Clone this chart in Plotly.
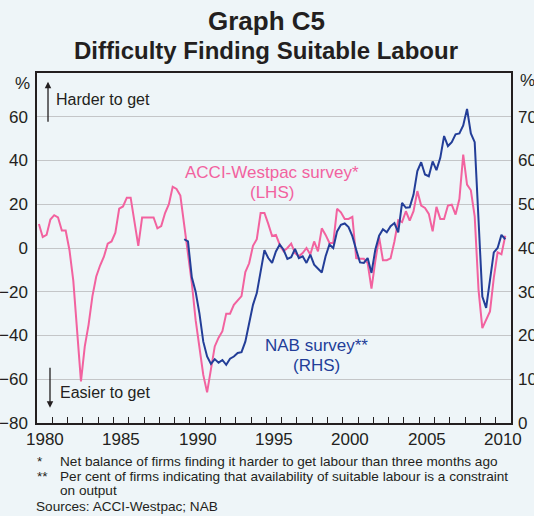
import pandas as pd
import plotly.graph_objects as go

# Quarterly survey readings, 1980 Q1 onwards
acci_westpac = [
    11, 5, 6, 13, 15, 14, 8, 8,                 # 1980-1981
    -1, -15, -38, -61, -45, -35, -22, -13,      # 1982-1983
    -8, -4, 2, 3, 7, 18, 19, 23,                # 1984-1985
    23, 12, 1, 14, 14, 14, 14, 9,               # 1986-1987
    10, 16, 20, 28, 27, 24, 10, -3,             # 1988-1989
    -16, -33, -46, -58, -66, -56, -45, -41,     # 1990-1991
    -38, -30, -30, -26, -24, -22, -11, -7,      # 1992-1993
    1, 4, 16, 16, 11, 5.5, 6, 1.5,              # 1994-1995
    -1.5, 0, 2, -2.3, -3.8, -2.3, 0, -3,        # 1996-1997
    3, -1.5, 9, 6, 2.3, 2.3, 17.9, 16.3,        # 1998-1999
    13.3, 13.3, 14.2, -4.6, -4.9, -4.9, -6.9, -18.6,  # 2000-2001
    -6, 5, -5.6, -5.6, -4.7, 3, 12.7, 11.8,     # 2002-2003
    16.8, 12.5, 16.8, 26, 19.4, 18.3, 15.6, 7.6,  # 2004-2005
    18.8, 13.3, 13.3, 19.4, 19.8, 15.3, 22.4, 42.7,  # 2006-2007
    29, 26.4, 14.5, -19, -36.6, -32.8, -29, -13.7,   # 2008-2009
    -2, -2.9, 5.6,                               # 2010
]

# NAB series starts in 1989 Q3
nab_start = "1989Q3"
nab = [
    42, 41.5,                                    # 1989
    33.3, 30, 25, 18.6, 15.2, 13.5, 14.6, 13.8,  # 1990-1991
    14.4, 13.3, 14.7, 15.2, 16, 16.2, 18.6, 22.8,  # 1992-1993
    27, 29.7, 35, 39.5, 37.7, 36.6, 39.2, 40.8,  # 1994-1995
    39.6, 37.5, 37.9, 39.8, 37.7, 38.1, 36.6, 38.5,  # 1996-1997
    36.2, 35.2, 34.4, 38.1, 40.8, 40, 43.8, 45.3,  # 1998-1999
    45.6, 44.8, 42.7, 39.6, 36.7, 36.6, 37.7, 34.3,  # 2000-2001
    39.6, 42.8, 44.3, 43.6, 45, 45.7, 43.6, 50.3,  # 2002-2003
    49.2, 49.3, 52.2, 57.6, 59.6, 56.8, 56.4, 59.8,  # 2004-2005
    57.8, 60.6, 65.6, 63.3, 64.2, 66, 66.2, 68,   # 2006-2007
    71.8, 66.2, 64.2, 46.5, 28.9, 26.3, 32.7, 39,  # 2008-2009
    40, 43, 42,                                  # 2010
]

year_labels = ["1980", "1985", "1990", "1995", "2000", "2005", "2010"]
year_ticks = list(range(1980, 2012))
lhs_ticks = [-80, -60, -40, -20, 0, 20, 40, 60]
rhs_ticks = [0, 10, 20, 30, 40, 50, 60, 70]

PINK = "#F2629F"
BLUE = "#233E98"
BG = "#EEF5F8"
TXT = "#231F20"
FONT = "Liberation Sans, Arial, sans-serif"


def mid_quarter(start, n):
    q = pd.period_range(start, periods=n, freq="Q")
    return list(q.year + (q.quarter - 1) / 4 + 0.125)


x_acci = mid_quarter("1980Q1", len(acci_westpac))
x_nab = mid_quarter(nab_start, len(nab))

W, H = 534, 516
L, R, T, B = 37, 511, 73, 423


def px_x(px):
    return (px - L) / (R - L)


def px_y(py):
    return (B - py) / (B - T)


def paper_text(text, px, py, size, xanchor="center", color=TXT):
    return dict(text=text, x=px_x(px), y=px_y(py), xref="paper", yref="paper",
                xanchor=xanchor, yanchor="middle", showarrow=False,
                font=dict(size=size, color=color, family=FONT))


def data_text(text, x, y, size, xanchor="center", color=TXT):
    return dict(text=text, x=x, y=y, xref="x", yref="y",
                xanchor=xanchor, yanchor="middle", showarrow=False,
                font=dict(size=size, color=color, family=FONT))


def arrow(x, y_tail, y_head):
    return dict(x=x, y=y_head, ax=x, ay=y_tail, xref="x", yref="y", axref="x", ayref="y",
                text="", showarrow=True, arrowhead=2, arrowsize=1, arrowwidth=1.3,
                arrowcolor=TXT)


fig = go.Figure()
fig.add_trace(go.Scatter(x=x_acci, y=acci_westpac, mode="lines",
                         line=dict(color=PINK, width=2), yaxis="y",
                         hoverinfo="skip"))
fig.add_trace(go.Scatter(x=x_nab, y=nab, mode="lines",
                         line=dict(color=BLUE, width=2), yaxis="y2",
                         hoverinfo="skip"))

ann = [
    # Titles
    paper_text("<b>Graph C5</b>", 266, 21, 26),
    paper_text("<b>Difficulty Finding Suitable Labour</b>", 266, 51, 24),
    # Unit labels
    paper_text("%", 22, 83, 17),
    paper_text("%", 518, 80, 17, xanchor="left"),
    # Direction arrows and captions
    arrow(1980.72, 57, 76),
    data_text("Harder to get", 1981.1, 68, 16, xanchor="left"),
    arrow(1980.85, -54, -73),
    data_text("Easier to get", 1981.37, -66, 16, xanchor="left"),
    # Series labels
    data_text("ACCI-Westpac survey*", 1995.37, 34.5, 17, color=PINK),
    data_text("(LHS)", 1995.37, 25.3, 17, color=PINK),
    data_text("NAB survey**", 1998.25, -44.7, 17, color=BLUE),
    data_text("(RHS)", 1998.25, -53.9, 17, color=BLUE),
]

# Year labels sit in the middle of each labelled year
for lab in year_labels:
    ann.append(dict(text=lab, x=int(lab) + 0.5, y=px_y(439), xref="x", yref="paper",
                    xanchor="center", yanchor="middle", showarrow=False,
                    font=dict(size=17, color=TXT, family=FONT)))

# Footnotes
notes = [
    (35, 461, "*"),
    (58, 461, "Net balance of firms finding it harder to get labour than three months ago"),
    (35, 476, "**"),
    (58, 476, "Per cent of firms indicating that availability of suitable labour is a constraint"),
    (58, 490, "on output"),
    (34, 506, "Sources: ACCI-Westpac; NAB"),
]
for nx, ny, t in notes:
    ann.append(paper_text(t, nx, ny, 13.6, xanchor="left"))

fig.update_layout(
    width=W, height=H,
    margin=dict(l=L, r=W - R, t=T, b=H - B, pad=0, autoexpand=False),
    paper_bgcolor=BG, plot_bgcolor=BG,
    showlegend=False,
    annotations=ann,
    font=dict(family=FONT, color=TXT),
    xaxis=dict(
        range=[1980, 2011], automargin=False,
        tickvals=year_ticks, showticklabels=False,
        ticks="inside", ticklen=6, tickwidth=1, tickcolor=TXT,
        showgrid=False, zeroline=False,
        showline=True, linecolor=TXT, linewidth=1.5, mirror=True,
    ),
    yaxis=dict(
        range=[-80, 80], tickvals=lhs_ticks, ticks="", automargin=False,
        showgrid=True, gridcolor="#C4C6C8", gridwidth=1, zeroline=False,
        showline=True, linecolor=TXT, linewidth=1.5, mirror=True,
        tickfont=dict(size=17, color=TXT, family=FONT), ticklabelstandoff=4,
    ),
    yaxis2=dict(
        range=[0, 80], tickvals=rhs_ticks, ticks="", overlaying="y", side="right",
        showgrid=False, zeroline=False, showline=False, automargin=False,
        tickfont=dict(size=17, color=TXT, family=FONT), ticklabelstandoff=6,
    ),
)

fig.write_html("out.html")
